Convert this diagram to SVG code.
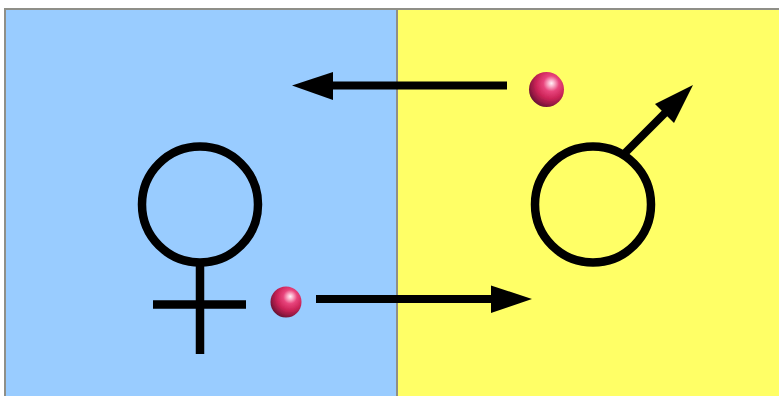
<svg xmlns="http://www.w3.org/2000/svg" width="779" height="396" viewBox="0 0 779 396">
<defs>
<radialGradient id="ball" cx="0.62" cy="0.36" r="0.7" fx="0.64" fy="0.32">
<stop offset="0" stop-color="#fff2f8"/>
<stop offset="0.12" stop-color="#fbb4cc"/>
<stop offset="0.32" stop-color="#e8447c"/>
<stop offset="0.6" stop-color="#cc2458"/>
<stop offset="0.85" stop-color="#8e1840"/>
<stop offset="1" stop-color="#5a1030"/>
</radialGradient>
<filter id="soft" x="-10%" y="-10%" width="120%" height="120%"><feGaussianBlur stdDeviation="0.7"/></filter>
</defs>
<style>
.sym{fill:none;stroke:#000;stroke-width:8.500}
.shaft{fill:none;stroke:#000;stroke-width:8}
.head{fill:#000;stroke:none}
</style>
<rect width="779" height="396" fill="#fff"/>
<g id="panels" filter="url(#soft)">
<rect x="5.500" y="9" width="392" height="387" fill="#99ccff"/>
<rect x="397" y="9" width="382" height="387" fill="#ffff66"/>
<path d="M5 396V9H779M397 9V396" fill="none" stroke="#8f8f88" stroke-width="2"/>
</g>
<g filter="url(#soft)">
<g id="female">
<circle class="sym" cx="200" cy="204.500" r="58"/>
<path class="sym" d="M200 262V354M153 304.500H246"/>
</g>
<g id="male">
<circle class="sym" cx="593" cy="204.500" r="58"/>
</g>
<g id="connectors">
<path class="shaft" d="M507 85.500H330"/>
<polygon class="head" points="292,85.500 333,72 333,100"/>
<path class="shaft" d="M316 299H495"/>
<polygon class="head" points="532,299 491,285.500 491,313"/>
<path class="shaft" d="M623 155L668 110"/>
<polygon class="head" points="693,85 674,123 655,104"/>
</g>
<g id="particle-top"><circle cx="546.500" cy="89.500" r="17.500" fill="url(#ball)"/></g>
<g id="particle-bottom"><circle cx="286" cy="302" r="15.500" fill="url(#ball)"/></g>
</g>
</svg>
